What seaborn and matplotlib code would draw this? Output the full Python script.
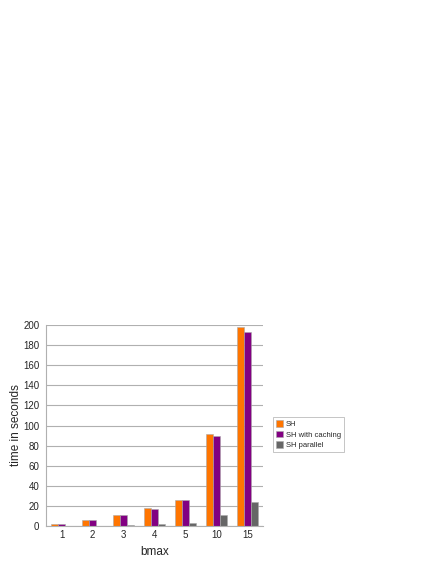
import pandas as pd
import matplotlib.pyplot as plt
import seaborn as sns

bmax = ["1", "2", "3", "4", "5", "10", "15"]
sh = [2, 6, 11, 18, 26, 92, 198]
sh_caching = [2, 6, 11, 17, 26, 90, 193]
sh_parallel = [0.3, 0.5, 1.5, 2, 3, 11, 24]
series = ["SH", "SH with caching", "SH parallel"]
colors = ["#FF7500", "#820082", "#666666"]

df = pd.DataFrame({"bmax": bmax * 3,
                   "time": sh + sh_caching + sh_parallel,
                   "series": [s for s in series for _ in bmax]})

sns.set_style("white")
plt.rcParams['font.family'] = ['Liberation Sans', 'DejaVu Sans']

fig = plt.figure(figsize=(4.36, 5.64), dpi=100)
ax = fig.add_axes([0.106, 0.067, 0.497, 0.357])

sns.barplot(data=df, x="bmax", y="time", hue="series", palette=colors,
            width=0.7, saturation=1, ax=ax, edgecolor="#aaaaaa", linewidth=0.4)

ax.set_ylim(0, 200)
ax.set_yticks(range(0, 201, 20))
ax.set_xlim(-0.5, len(bmax) - 0.5)
ax.yaxis.grid(True, color="#b0b0b0", linewidth=0.8)
ax.set_axisbelow(True)
for side in ["top", "right"]:
    ax.spines[side].set_visible(False)
ax.spines["left"].set_color("#b0b0b0")
ax.spines["bottom"].set_color("#b0b0b0")
ax.tick_params(axis="both", labelsize=7, pad=3)
ax.tick_params(axis="y", length=3, color="#b0b0b0", pad=2)
ax.tick_params(axis="x", which="major", length=0)
ax.set_xticks(range(len(bmax)))
ax.set_xticks([i + 0.5 for i in range(-1, len(bmax))], minor=True)
ax.tick_params(axis="x", which="minor", length=3, color="#b0b0b0")
ax.set_xlabel("bmax", fontsize=8.5, labelpad=4)
ax.set_ylabel("time in seconds", fontsize=8.5, labelpad=1)

leg = ax.legend(loc="center left", bbox_to_anchor=(1.045, 0.455), fontsize=5.5,
                frameon=True, fancybox=False, edgecolor="#aaaaaa",
                handlelength=1.0, handleheight=1.0, handletextpad=0.3,
                labelspacing=0.35, borderpad=0.4, borderaxespad=0)
leg.get_frame().set_linewidth(0.6)

fig.savefig("out.png", dpi=100)
